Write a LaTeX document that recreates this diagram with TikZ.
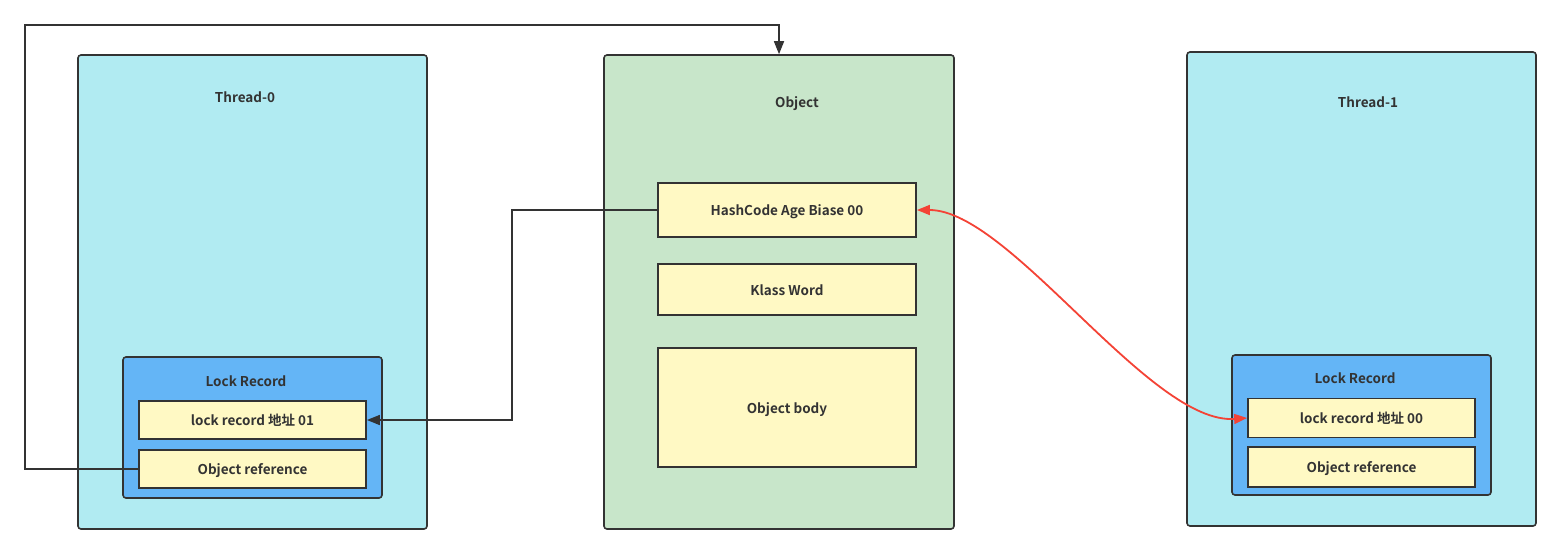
\documentclass[tikz,border=0pt]{standalone}
\usepackage{fontspec}
\setmainfont{Noto Sans CJK SC}[BoldFont={Noto Sans CJK SC Bold}]
\usetikzlibrary{arrows.meta}
\definecolor{txt}{HTML}{333333}
\definecolor{cyanbg}{HTML}{B1EBF2}
\definecolor{greenbg}{HTML}{C8E6CA}
\definecolor{bluebg}{HTML}{64B5F6}
\definecolor{yellowbg}{HTML}{FFF9C4}
\definecolor{redline}{HTML}{F44336}
\tikzset{
  outerbox/.style={draw=txt, line width=1.6pt, rounded corners=3pt, inner sep=0pt},
  lockbox/.style={draw=txt, line width=1.6pt, rounded corners=3pt, fill=bluebg, inner sep=0pt},
  fieldbox/.style={draw=txt, line width=1.8pt, fill=yellowbg, inner sep=0pt, font=\bfseries\fontsize{13.5}{15}\selectfont, text=txt, text height=1.1em, text depth=0pt},
  label/.style={font=\bfseries\fontsize{13.5}{15}\selectfont, text=txt, inner sep=0pt, text height=1.1em, text depth=0pt},
  conn/.style={draw=txt, line width=1.6pt, -{Triangle[length=13pt,width=10pt]}},
  redconn/.style={draw=redline, line width=1.8pt, {Triangle[length=13pt,width=10pt]}-{Triangle[length=13pt,width=10pt]}}
}
\begin{document}
\begin{tikzpicture}[x=1pt,y=-1pt]
\useasboundingbox[fill=white] (0,0) rectangle (1561,555);
% Thread-0
\node[outerbox, fill=cyanbg, minimum width=349pt, minimum height=474pt] (t0) at (252.5,292) {};
\node[label] (t0l) at (245,97) {Thread-0};
\node[lockbox, minimum width=259pt, minimum height=141pt] (lk0) at (252.5,427.5) {};
\node[label] (lk0l) at (246,381) {Lock Record};
\node[fieldbox, minimum width=227pt, minimum height=38pt] (lr0) at (252.5,420) {lock record 地址 01};
\node[fieldbox, minimum width=227pt, minimum height=38pt] (or0) at (252.5,469) {Object reference};
% Object
\node[outerbox, fill=greenbg, minimum width=350pt, minimum height=474pt] (obj) at (779,292) {};
\node[label] (objl) at (797,102) {Object};
\node[fieldbox, minimum width=258pt, minimum height=54pt] (hc) at (787,210) {HashCode Age Biase 00};
\node[fieldbox, minimum width=258pt, minimum height=51pt] (kw) at (787,289.5) {Klass Word};
\node[fieldbox, minimum width=258pt, minimum height=119pt] (ob) at (787,407.5) {Object body};
% Thread-1
\node[outerbox, fill=cyanbg, minimum width=349pt, minimum height=474pt] (t1) at (1361.5,289) {};
\node[label] (t1l) at (1368,102) {Thread-1};
\node[lockbox, minimum width=259pt, minimum height=140pt] (lk1) at (1361.5,425) {};
\node[label] (lk1l) at (1355,378) {Lock Record};
\node[fieldbox, minimum width=227pt, minimum height=39pt] (lr1) at (1361.5,418) {lock record 地址 00};
\node[fieldbox, minimum width=227pt, minimum height=40pt] (or1) at (1361.5,467) {Object reference};
% connectors
\coordinate (c1) at (25,25);
\draw[conn] (or0.west) -| (c1) -| (obj.north);
\coordinate (c2) at (512,420);
\draw[conn] (hc.west) -| (c2) -- (lr0.east);
\draw[redconn] (hc.east) .. controls (1010,210) and (1150,425) .. (lr1.west);
\end{tikzpicture}
\end{document}
